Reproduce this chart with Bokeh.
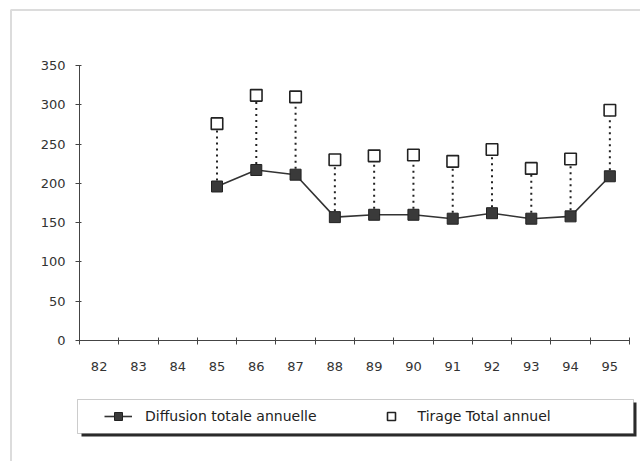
from bokeh.plotting import figure
from bokeh.models import (Range1d, FixedTicker, Legend, LegendItem, BoxAnnotation,
                          ColumnDataSource)
from bokeh.embed import file_html
from bokeh.resources import INLINE

# ---- data ----
years = ["82", "83", "84", "85", "86", "87", "88", "89", "90", "91", "92", "93", "94", "95"]
data_years = ["85", "86", "87", "88", "89", "90", "91", "92", "93", "94", "95"]
diffusion = [196, 217, 211, 157, 160, 160, 155, 162, 155, 158, 209]
tirage = [276, 312, 310, 230, 235, 236, 228, 243, 219, 231, 293]
y_ticks = [0, 50, 100, 150, 200, 250, 300, 350]

FONT = "DejaVu Sans"

x_pos = [years.index(y) + 0.5 for y in data_years]
src = ColumnDataSource(dict(x=x_pos, d=diffusion, t=tirage))

# the frame covers the whole canvas; axes are pinned at x=0 / y=0
p = figure(width=640, height=461, output_backend="svg", toolbar_location=None,
           x_range=Range1d(-2.011, 14.28), y_range=Range1d(-154.0, 432.7),
           min_border=0)
p.outline_line_color = None
p.grid.visible = False
p.background_fill_color = "white"
p.border_fill_color = "white"

# outer frame (left and top edges of the scanned chart)
p.add_layout(BoxAnnotation(left=10.5, right=900, top=451.5, bottom=-300,
                           left_units="screen", right_units="screen",
                           top_units="screen", bottom_units="screen",
                           fill_alpha=0, line_color="#8a8a8a", line_width=2, level="underlay"))

# legend box with shadow
p.add_layout(BoxAnnotation(left=81, right=636, top=59, bottom=25,
                           left_units="screen", right_units="screen",
                           top_units="screen", bottom_units="screen",
                           fill_color="#2a2a2a", fill_alpha=1, line_alpha=0, level="underlay"))
p.add_layout(BoxAnnotation(left=77, right=633, top=62, bottom=28,
                           left_units="screen", right_units="screen",
                           top_units="screen", bottom_units="screen",
                           fill_color="white", fill_alpha=1, line_color="#555555",
                           line_width=1, level="underlay"))

# dotted connectors
p.segment(x0="x", y0="d", x1="x", y1="t", source=src, line_color="#222222",
          line_width=2, line_dash="2 4")
ln = p.line(x="x", y="d", source=src, line_color="#333333", line_width=1.6)
sq = p.scatter(x="x", y="d", source=src, marker="square", size=11,
               fill_color="#3a3a3a", line_color="#222222", line_width=1)
osq = p.scatter(x="x", y="t", source=src, marker="square", size=11.5,
                fill_color="white", line_color="#222222", line_width=1.6)

# axes
xa = p.xaxis[0]
xa.fixed_location = 0
xa.bounds = (0, len(years))
xa.ticker = FixedTicker(ticks=[i + 0.5 for i in range(len(years))],
                        minor_ticks=list(range(len(years) + 1)))
xa.major_label_overrides = {i + 0.5: y for i, y in enumerate(years)}
xa.major_tick_out = 0
xa.major_tick_in = 0
xa.minor_tick_out = 4
xa.minor_tick_in = 3
xa.minor_tick_line_color = "#444444"
xa.axis_line_color = "#444444"
xa.major_label_text_font = FONT
xa.major_label_text_font_size = "13px"
xa.major_label_text_color = "#333333"
xa.major_label_standoff = 18

ya = p.yaxis[0]
ya.fixed_location = 0
ya.bounds = (0, 350)
ya.ticker = FixedTicker(ticks=y_ticks, minor_ticks=[])
ya.major_tick_out = 4
ya.major_tick_in = 2
ya.major_tick_line_color = "#444444"
ya.axis_line_color = "#444444"
ya.major_label_text_font = FONT
ya.major_label_text_font_size = "13px"
ya.major_label_text_color = "#333333"
ya.major_label_standoff = 10

legend = Legend(items=[LegendItem(label="Diffusion totale annuelle", renderers=[ln, sq]),
                       LegendItem(label="Tirage Total annuel", renderers=[osq])],
                orientation="horizontal", location=(104, 35),
                glyph_width=28, glyph_height=20, label_standoff=13, spacing=60,
                padding=0, margin=0, border_line_alpha=0, background_fill_alpha=0,
                label_text_font=FONT, label_text_font_size="14px",
                label_text_color="#222222")
p.add_layout(legend, "center")

open("out.html", "w").write(file_html(p, INLINE))
